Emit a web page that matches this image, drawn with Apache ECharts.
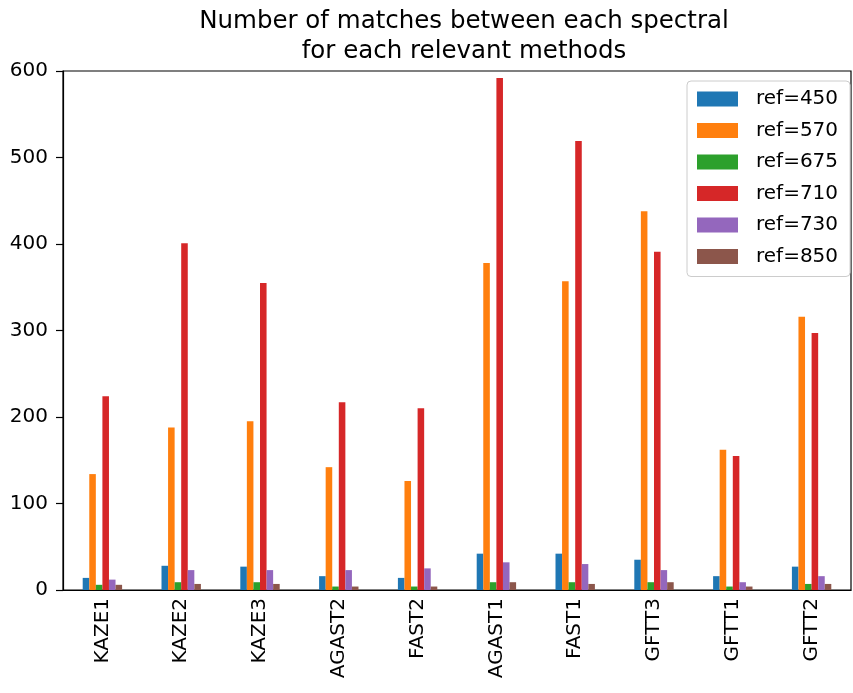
<!DOCTYPE html>
<html><head><meta charset="utf-8">
<script src="https://cdn.jsdelivr.net/npm/echarts@6/dist/echarts.min.js"></script>
<style>html,body{margin:0;padding:0;background:#fff}#c{width:853px;height:693px}</style>
</head><body><div id="c"></div>
<script>
const categories = ['KAZE1','KAZE2','KAZE3','AGAST2','FAST2','AGAST1','FAST1','GFTT3','GFTT1','GFTT2'];
const seriesNames = ['ref=450','ref=570','ref=675','ref=710','ref=730','ref=850'];
const ref450 = [14, 28, 27, 16, 14, 42, 42, 35, 16, 27];
const ref570 = [134, 188, 195, 142, 126, 378, 357, 438, 162, 316];
const ref675 = [6, 9, 9, 4, 4, 9, 9, 9, 4, 7];
const ref710 = [224, 401, 355, 217, 210, 592, 519, 391, 155, 297];
const ref730 = [12, 23, 23, 23, 25, 32, 30, 23, 9, 16];
const ref850 = [6, 7, 7, 4, 4, 9, 7, 9, 4, 7];
const yTicks = [0, 100, 200, 300, 400, 500, 600];
const colors = ['#1f77b4','#ff7f0e','#2ca02c','#d62728','#9467bd','#8c564b'];
const values = [ref450, ref570, ref675, ref710, ref730, ref850];

const FONT = 'DejaVu Sans';
const chart = echarts.init(document.getElementById('c'), null, {renderer:'canvas'});
chart.setOption({
  animation: false,
  backgroundColor: '#fff',
  title: {
    text: 'Number of matches between each spectral\nfor each relevant methods',
    left: 459, top: 2, textAlign: 'center',
    textStyle: {fontFamily: FONT, fontSize: 24.5, fontWeight: 'normal', color: '#000', lineHeight: 30}
  },
  legend: {
    orient: 'vertical', left: 687, top: 81,
    padding: [8, 12, 10, 10],
    itemWidth: 41, itemHeight: 15, itemGap: 11.5,
    backgroundColor: 'rgba(255,255,255,0.8)', borderColor: '#cccccc', borderWidth: 1, borderRadius: 4,
    icon: 'rect',
    textStyle: {fontFamily: FONT, fontSize: 20, color: '#000', padding: [0,0,0,13], lineHeight: 20},
    data: seriesNames
  },
  grid: {left: 63, right: 2, top: 71, bottom: 103, show: true, borderColor: '#000', borderWidth: 1.2, backgroundColor: 'transparent'},
  xAxis: {
    type: 'category', data: categories,
    axisLine: {lineStyle: {color: '#000', width: 1.2}},
    axisTick: {alignWithLabel: true, length: 7, lineStyle: {color: '#000', width: 1.2}},
    axisLabel: {rotate: 90, fontFamily: FONT, fontSize: 20, color: '#000', margin: 8},
    splitLine: {show: false}
  },
  yAxis: {
    type: 'value', min: yTicks[0], max: yTicks[yTicks.length-1], interval: 100,
    axisLine: {show: true, lineStyle: {color: '#000', width: 1.2}},
    axisTick: {show: true, length: 7, lineStyle: {color: '#000', width: 1.2}},
    axisLabel: {fontFamily: FONT, fontSize: 20, color: '#000', margin: 15},
    splitLine: {show: false}
  },
  series: seriesNames.map((n, i) => ({
    name: n, type: 'bar', data: values[i],
    barGap: '0%', barCategoryGap: '50%',
    itemStyle: {color: colors[i]}
  }))
});
</script></body></html>
